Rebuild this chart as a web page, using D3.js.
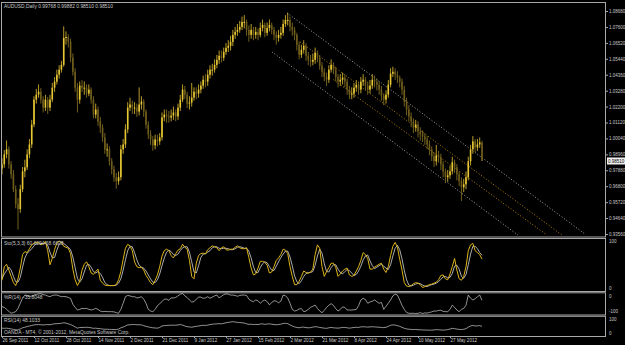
<!DOCTYPE html>
<html><head><meta charset="utf-8">
<script src="https://cdn.jsdelivr.net/npm/d3@7"></script>
<style>
body{margin:0;background:#000;}
svg{display:block;background:#000;}
text{font-family:"Liberation Sans",Arial,sans-serif;font-size:4.9px;fill:#c8c8c8;}
</style></head><body>
<svg id="c" width="625" height="345"></svg>
<script>
// ---------- data (AUDUSD Daily) ----------
const openP=[0.9800,0.9828,0.9896,0.9930,0.9828,0.9761,0.9660,0.9558,0.9525,0.9660,
0.9781,0.9808,0.9896,0.9963,1.0098,1.0267,1.0301,1.0321,1.0267,1.0213,
1.0267,1.0213,1.0267,1.0348,1.0389,1.0436,1.0470,1.0503,1.0686,1.0692,
1.0659,1.0551,1.0456,1.0348,1.0267,1.0362,1.0348,1.0348,1.0308,1.0335,
1.0267,1.0166,1.0200,1.0119,1.0078,1.0011,0.9930,0.9930,0.9849,0.9795,
0.9741,0.9714,0.9741,0.9930,0.9963,1.0065,1.0213,1.0234,1.0213,1.0213,
1.0186,1.0234,1.0254,1.0186,1.0098,1.0031,0.9997,0.9957,0.9997,0.9984,
1.0011,1.0146,1.0166,1.0153,1.0146,1.0159,1.0180,1.0153,1.0213,1.0267,
1.0335,1.0301,1.0240,1.0247,1.0281,1.0321,1.0308,1.0335,1.0362,1.0402,
1.0389,1.0436,1.0470,1.0470,1.0503,1.0537,1.0564,1.0551,1.0591,1.0618,
1.0632,1.0659,1.0706,1.0726,1.0740,1.0760,1.0794,1.0794,1.0740,1.0706,
1.0740,1.0706,1.0726,1.0706,1.0753,1.0774,1.0720,1.0753,1.0774,1.0740,
1.0706,1.0686,1.0706,1.0720,1.0780,1.0807,1.0807,1.0760,1.0740,1.0706,
1.0639,1.0571,1.0605,1.0632,1.0564,1.0537,1.0524,1.0537,1.0584,1.0551,
1.0497,1.0456,1.0422,1.0402,1.0470,1.0503,1.0470,1.0422,1.0389,1.0402,
1.0416,1.0389,1.0335,1.0301,1.0308,1.0348,1.0368,1.0335,1.0389,1.0402,
1.0362,1.0335,1.0362,1.0402,1.0389,1.0368,1.0335,1.0294,1.0267,1.0301,
1.0368,1.0443,1.0456,1.0436,1.0416,1.0389,1.0335,1.0254,1.0200,1.0153,
1.0119,1.0078,1.0098,1.0051,1.0031,1.0017,0.9997,0.9963,0.9930,0.9883,
0.9849,0.9889,0.9876,0.9828,0.9781,0.9741,0.9754,0.9781,0.9842,0.9808,
0.9761,0.9714,0.9673,0.9693,0.9741,0.9849,0.9930,0.9984,0.9943,0.9963,
0.9977];
const highP=[0.9870,0.9925,0.9990,0.9950,0.9850,0.9790,0.9685,0.9600,0.9690,0.9810,
0.9860,0.9930,1.0000,1.0130,1.0290,1.0340,1.0370,1.0345,1.0290,1.0300,
1.0285,1.0300,1.0380,1.0420,1.0470,1.0500,1.0530,1.0764,1.0730,1.0710,
1.0680,1.0580,1.0480,1.0380,1.0390,1.0400,1.0390,1.0370,1.0370,1.0350,
1.0290,1.0240,1.0220,1.0150,1.0100,1.0040,0.9970,0.9950,0.9870,0.9820,
0.9770,0.9780,0.9960,1.0000,1.0100,1.0250,1.0280,1.0260,1.0250,1.0240,
1.0350,1.0290,1.0270,1.0200,1.0120,1.0060,1.0020,1.0030,1.0030,1.0040,
1.0180,1.0200,1.0200,1.0190,1.0200,1.0220,1.0200,1.0240,1.0300,1.0370,
1.0360,1.0320,1.0290,1.0380,1.0350,1.0350,1.0370,1.0390,1.0430,1.0440,
1.0470,1.0500,1.0510,1.0540,1.0570,1.0600,1.0600,1.0620,1.0650,1.0670,
1.0700,1.0740,1.0760,1.0780,1.0800,1.0830,1.0840,1.0810,1.0770,1.0780,
1.0760,1.0760,1.0750,1.0790,1.0810,1.0790,1.0790,1.0810,1.0790,1.0760,
1.0730,1.0740,1.0760,1.0810,1.0840,1.0856,1.0830,1.0790,1.0760,1.0720,
1.0660,1.0640,1.0670,1.0650,1.0590,1.0570,1.0580,1.0620,1.0600,1.0570,
1.0520,1.0480,1.0450,1.0500,1.0540,1.0520,1.0490,1.0440,1.0440,1.0450,
1.0440,1.0410,1.0360,1.0350,1.0380,1.0400,1.0390,1.0420,1.0440,1.0420,
1.0390,1.0400,1.0440,1.0430,1.0410,1.0390,1.0360,1.0310,1.0330,1.0400,
1.0480,1.0490,1.0480,1.0460,1.0430,1.0410,1.0360,1.0280,1.0230,1.0180,
1.0140,1.0130,1.0120,1.0080,1.0060,1.0040,1.0020,0.9990,0.9950,0.9910,
0.9960,0.9920,0.9900,0.9850,0.9800,0.9790,0.9820,0.9880,0.9860,0.9830,
0.9780,0.9740,0.9730,0.9780,0.9880,0.9960,1.0020,1.0000,1.0000,1.0010,
0.9988];
const lowP=[0.9760,0.9805,0.9870,0.9800,0.9730,0.9640,0.9530,0.9386,0.9500,0.9640,
0.9740,0.9790,0.9870,0.9940,1.0080,1.0240,1.0280,1.0240,1.0180,1.0190,
1.0170,1.0190,1.0250,1.0320,1.0370,1.0410,1.0450,1.0490,1.0640,1.0620,
1.0520,1.0430,1.0320,1.0180,1.0240,1.0320,1.0300,1.0280,1.0290,1.0240,
1.0140,1.0140,1.0090,1.0040,0.9980,0.9900,0.9880,0.9820,0.9760,0.9710,
0.9663,0.9690,0.9720,0.9900,0.9940,1.0040,1.0190,1.0170,1.0170,1.0150,
1.0160,1.0200,1.0150,1.0070,1.0000,0.9960,0.9920,0.9930,0.9950,0.9960,
0.9990,1.0120,1.0110,1.0110,1.0120,1.0130,1.0120,1.0130,1.0190,1.0250,
1.0270,1.0210,1.0200,1.0220,1.0260,1.0270,1.0280,1.0310,1.0340,1.0350,
1.0360,1.0410,1.0430,1.0450,1.0480,1.0510,1.0520,1.0530,1.0570,1.0590,
1.0600,1.0630,1.0680,1.0700,1.0720,1.0740,1.0750,1.0700,1.0660,1.0680,
1.0670,1.0680,1.0670,1.0690,1.0730,1.0690,1.0700,1.0730,1.0710,1.0670,
1.0640,1.0660,1.0680,1.0700,1.0760,1.0770,1.0730,1.0700,1.0670,1.0600,
1.0540,1.0550,1.0580,1.0530,1.0500,1.0490,1.0500,1.0510,1.0520,1.0470,
1.0420,1.0390,1.0360,1.0380,1.0450,1.0440,1.0390,1.0350,1.0360,1.0370,
1.0350,1.0300,1.0270,1.0270,1.0280,1.0320,1.0300,1.0310,1.0360,1.0330,
1.0300,1.0310,1.0340,1.0350,1.0330,1.0300,1.0260,1.0230,1.0240,1.0280,
1.0350,1.0420,1.0400,1.0380,1.0350,1.0300,1.0220,1.0160,1.0120,1.0080,
1.0040,1.0050,1.0010,0.9990,0.9980,0.9960,0.9930,0.9890,0.9850,0.9810,
0.9820,0.9840,0.9790,0.9740,0.9700,0.9710,0.9730,0.9760,0.9770,0.9720,
0.9680,0.9580,0.9640,0.9660,0.9720,0.9820,0.9900,0.9910,0.9920,0.9940,
0.9851];
const closeP=[0.9828,0.9896,0.9930,0.9828,0.9761,0.9660,0.9558,0.9525,0.9660,0.9781,
0.9808,0.9896,0.9963,1.0098,1.0267,1.0301,1.0321,1.0267,1.0213,1.0267,
1.0213,1.0267,1.0348,1.0389,1.0436,1.0470,1.0503,1.0686,1.0692,1.0659,
1.0551,1.0456,1.0348,1.0267,1.0362,1.0348,1.0348,1.0308,1.0335,1.0267,
1.0166,1.0200,1.0119,1.0078,1.0011,0.9930,0.9930,0.9849,0.9795,0.9741,
0.9714,0.9741,0.9930,0.9963,1.0065,1.0213,1.0234,1.0213,1.0213,1.0186,
1.0234,1.0254,1.0186,1.0098,1.0031,0.9997,0.9957,0.9997,0.9984,1.0011,
1.0146,1.0166,1.0153,1.0146,1.0159,1.0180,1.0153,1.0213,1.0267,1.0335,
1.0301,1.0240,1.0247,1.0281,1.0321,1.0308,1.0335,1.0362,1.0402,1.0389,
1.0436,1.0470,1.0470,1.0503,1.0537,1.0564,1.0551,1.0591,1.0618,1.0632,
1.0659,1.0706,1.0726,1.0740,1.0760,1.0794,1.0794,1.0740,1.0706,1.0740,
1.0706,1.0726,1.0706,1.0753,1.0774,1.0720,1.0753,1.0774,1.0740,1.0706,
1.0686,1.0706,1.0720,1.0780,1.0807,1.0807,1.0760,1.0740,1.0706,1.0639,
1.0571,1.0605,1.0632,1.0564,1.0537,1.0524,1.0537,1.0584,1.0551,1.0497,
1.0456,1.0422,1.0402,1.0470,1.0503,1.0470,1.0422,1.0389,1.0402,1.0416,
1.0389,1.0335,1.0301,1.0308,1.0348,1.0368,1.0335,1.0389,1.0402,1.0362,
1.0335,1.0362,1.0402,1.0389,1.0368,1.0335,1.0294,1.0267,1.0301,1.0368,
1.0443,1.0456,1.0436,1.0416,1.0389,1.0335,1.0254,1.0200,1.0153,1.0119,
1.0078,1.0098,1.0051,1.0031,1.0017,0.9997,0.9963,0.9930,0.9883,0.9849,
0.9889,0.9876,0.9828,0.9781,0.9741,0.9754,0.9781,0.9842,0.9808,0.9761,
0.9714,0.9673,0.9693,0.9741,0.9849,0.9930,0.9984,0.9943,0.9963,0.9977,
0.9851];

const stochMain=[17,45,50,38,25,12,6,20,42,70,
76,74,82,90,93,95,94,90,92,97,
78,49,62,80,94,98,95,87,85,83,
72,40,18,6,15,38,50,55,45,32,
29,35,40,17,11,7,6,6,6,6,
8,18,35,60,83,91,88,78,55,45,
43,44,38,27,20,12,8,17,28,45,
67,78,81,78,68,63,72,79,82,91,
85,81,58,25,20,52,68,72,73,71,
80,84,88,86,84,78,84,86,80,79,
81,81,85,88,84,82,82,84,64,42,
28,30,42,56,56,54,48,32,34,45,
58,63,70,81,79,72,45,25,8,8,
15,25,36,33,31,34,40,70,90,83,
45,25,35,43,52,52,44,25,30,36,
40,42,28,25,27,36,45,58,74,70,
62,40,40,44,47,50,52,40,33,45,
68,87,95,85,60,38,12,5,4,6,
10,12,11,8,2,4,6,8,9,11,
13,18,27,28,20,18,30,45,62,38,
20,17,25,45,78,90,93,78,74,70,
60.6294];
const stochSignal=[20,30,37,44,38,25,14,13,23,44,
63,73,77,82,88,93,94,93,92,93,
89,75,63,64,79,91,96,93,89,85,
80,65,43,21,13,20,34,48,50,44,
35,32,35,31,23,12,8,6,6,6,
7,11,20,38,59,78,87,86,74,59,
48,44,42,36,28,20,13,12,18,30,
47,63,75,79,76,70,68,71,78,84,
86,86,75,55,34,32,47,64,71,72,
75,78,84,86,86,83,82,83,83,82,
80,80,82,85,86,85,83,83,77,63,
45,33,33,43,51,55,53,45,38,37,
46,55,64,71,77,77,65,47,26,14,
10,16,25,31,33,33,35,48,67,81,
73,51,35,34,43,49,49,40,33,30,
35,39,37,32,27,29,36,46,59,67,
69,57,47,41,44,47,50,46,42,39,
49,67,83,89,80,61,37,18,7,5,
7,9,11,10,7,5,4,6,8,9,
11,14,19,24,25,22,23,31,46,48,
40,25,21,29,49,71,87,87,82,74,
68.6608];
const williamsR=[-67,-70,-80,-90,-99,-95,-91,-75,-50,-25,
-10,-12,-18,-15,-10,-8,-4,-3,-8,-10,
-15,-18,-12,-10,-10,-14,-18,-17,-18,-22,
-26,-55,-70,-83,-80,-75,-76,-75,-80,-83,
-80,-75,-80,-88,-91,-90,-91,-91,-91,-92,
-96,-99,-80,-50,-18,-12,-14,-18,-18,-24,
-22,-18,-30,-50,-80,-88,-91,-80,-62,-52,
-42,-30,-30,-36,-24,-24,-22,-14,-6,-2,
-14,-22,-34,-44,-42,-30,-20,-20,-26,-24,
-18,-26,-20,-14,-10,-24,-16,-8,-4,-6,
-10,-10,-12,-16,-12,-10,-10,-12,-30,-38,
-42,-34,-38,-50,-40,-34,-42,-58,-46,-38,
-40,-48,-40,-10,-14,-24,-50,-80,-88,-85,
-78,-76,-91,-88,-80,-70,-65,-59,-75,-88,
-96,-85,-70,-60,-52,-60,-76,-88,-80,-68,
-70,-83,-83,-83,-82,-80,-62,-34,-26,-32,
-50,-44,-40,-34,-42,-50,-46,-80,-65,-50,
-34,-14,-6,-10,-34,-60,-80,-95,-99,-99,
-99,-100,-99,-96,-100,-97,-98,-95,-92,-88,
-88,-85,-84,-90,-91,-91,-80,-59,-70,-83,
-91,-80,-75,-60,-10,-25,-34,-28,-18,-10,
-35.8048];
const rsiValues=[38,37,38,36,34,31,29,28,34,40,
43,47,50,53,56,57,58,57,56,57,
58,57,60,62,63,64,65,68,66,62,
58,52,45,38,42,42,42,43,42,40,
37,38,36,35,33,32,32,31,31,30,
30,33,40,44,50,56,57,58,58,57,
57,56,52,48,45,42,40,39,38,42,
50,52,53,54,54,55,54,56,58,55,
50,46,45,43,46,48,50,52,54,53,
55,58,60,61,62,63,62,65,68,70,
72,74,72,70,69,68,66,62,59,60,
58,59,58,61,62,59,61,62,60,58,
57,58,60,64,65,63,56,50,45,42,
40,43,44,41,40,41,44,46,45,42,
40,38,37,40,42,40,39,38,40,42,
42,40,38,40,42,43,42,45,46,45,
44,45,46,45,44,43,42,41,43,48,
54,56,55,52,48,43,37,34,32,31,
30,31,29,29,28,28,27,27,27,28,
30,29,28,27,28,30,33,37,35,33,
31,30,32,35,44,50,53,50,51,52,
48.1033];

const dateLabels=["26 Sep 2011","12 Oct 2011","28 Oct 2011","14 Nov 2011","2 Dec 2011","21 Dec 2011","9 Jan 2012","27 Jan 2012","15 Feb 2012","2 Mar 2012","21 Mar 2012","8 Apr 2012","24 Apr 2012","10 May 2012","27 May 2012"];
const barsPerLabel=14;
const priceTicks=[1.08680,1.07600,1.06520,1.05440,1.04360,1.03280,1.02200,1.01120,1.00040,0.98960,0.97880,0.96800,0.95720,0.94640,0.93560];
// channel lines: [barIndex, price] pairs
const channelLines=[
 {a:[124.7,1.0855],b:[255.0,0.9356],kind:"grey"},
 {a:[118.1,1.0591],b:[225.7,0.9349],kind:"grey"},
 {a:[130.4,1.0659],b:[245.0,0.9349],kind:"gold"},
 {a:[145.0,1.0402],b:[238.4,0.9349],kind:"gold"}
];
const header="AUDUSD,Daily  0.99768 0.99882 0.98510 0.98510";

// ---------- drawing ----------
const svg=d3.select("#c");
const N=closeP.length;
const x=d3.scaleLinear().domain([0,196]).range([2,450]);
const yP=d3.scaleLinear().domain([0.9356,1.0868]).range([234,11]);
const yS=d3.scaleLinear().domain([0,100]).range([288.5,240]);
const yW=d3.scaleLinear().domain([-100,0]).range([313.5,293]);
const yR=d3.scaleLinear().domain([0,100]).range([335,317]);

const frame="#a8a8a8";
const panels=[[1,2,236.5],[1,238,291],[1,292.3,314.5],[1,315.8,336]];
panels.forEach(p=>{
  svg.append("rect").attr("x",p[0]+0.5).attr("y",p[1]+0.5).attr("width",605-p[0]).attr("height",p[2]-p[1])
   .attr("fill","none").attr("stroke",frame).attr("stroke-width",1);
});

svg.append("clipPath").attr("id","mc").append("rect").attr("x",2).attr("y",3).attr("width",604).attr("height",233);
const main=svg.append("g").attr("clip-path","url(#mc)");
channelLines.forEach(l=>{
  const x1=x(l.a[0]),y1=yP(l.a[1]),x2=x(l.b[0]),y2=yP(l.b[1]);
  main.append("line").attr("x1",x1).attr("y1",y1).attr("x2",x2).attr("y2",y2)
   .attr("stroke",l.kind==="grey"?"#a8a8a8":"#b8860b").attr("stroke-width",1)
   .attr("stroke-dasharray","1,2");
});
const idx=d3.range(N);
main.selectAll("line.wick").data(idx).join("line").attr("class","wick")
  .attr("x1",i=>x(i)).attr("x2",i=>x(i)).attr("y1",i=>yP(highP[i])).attr("y2",i=>yP(lowP[i]))
  .attr("stroke",i=>closeP[i]>=openP[i]?"#c9ac2c":"#7d6a22").attr("stroke-width",0.9);
main.selectAll("rect.body").data(idx).join("rect").attr("class","body")
  .attr("x",i=>x(i)-0.8).attr("width",1.6)
  .attr("y",i=>yP(Math.max(openP[i],closeP[i])))
  .attr("height",i=>Math.max(1,Math.abs(yP(openP[i])-yP(closeP[i]))))
  .attr("fill",i=>closeP[i]>=openP[i]?"#e6c634":"#6f5d1c");

// price axis
const ay=svg.append("g").attr("transform","translate(606,0)")
  .call(d3.axisRight(yP).tickValues(priceTicks).tickSize(2).tickPadding(1).tickFormat(d3.format(".5f")));
ay.select(".domain").remove();
ay.selectAll("line").attr("stroke",frame);
ay.selectAll("text").attr("fill","#c8c8c8").style("font-size","4.5px");
// current price box
const cp=closeP[N-1];
svg.append("rect").attr("x",607).attr("y",yP(cp)-3.5).attr("width",18).attr("height",7).attr("fill","#f0f0f0");
svg.append("text").attr("x",608).attr("y",yP(cp)).attr("dy","0.35em").style("font-size","4.5px").style("fill","#000").text(d3.format(".5f")(cp));

// indicator lines
const ln=(ys,arr)=>d3.line().x((d,i)=>x(i)).y(d=>ys(d))(arr);
svg.append("path").attr("d",ln(yS,stochSignal)).attr("fill","none").attr("stroke","#d8d8d8").attr("stroke-width",0.8);
svg.append("path").attr("d",ln(yS,stochMain)).attr("fill","none").attr("stroke","#dcb418").attr("stroke-width",1);
svg.append("path").attr("d",ln(yW,williamsR)).attr("fill","none").attr("stroke","#d0d0d0").attr("stroke-width",0.7);
svg.append("path").attr("d",ln(yR,rsiValues)).attr("fill","none").attr("stroke","#d0d0d0").attr("stroke-width",0.7);

const sideLabels=[["100",yS(100)+1.5],["0",yS(0)],["0",yW(0)+3],["-100",yW(-100)-2.5],["100",yR(100)+2],["0",yR(0)-2]];
svg.selectAll("text.side").data(sideLabels).join("text").attr("class","side")
  .attr("x",609).attr("y",d=>d[1]).attr("dy","0.35em").style("font-size","4.5px").text(d=>d[0]);

// date axis
const ax=svg.append("g").attr("transform","translate(0,336)")
  .call(d3.axisBottom(x).tickValues(dateLabels.map((d,k)=>k*barsPerLabel)).tickSize(2).tickPadding(1)
    .tickFormat((d,k)=>dateLabels[k]));
ax.select(".domain").remove();
ax.selectAll("line").attr("stroke",frame);
ax.selectAll("text").attr("text-anchor","start").attr("fill","#c8c8c8").style("font-size","4.6px");

// panel texts
svg.append("text").attr("x",4).attr("y",7.5).text(header);
svg.append("text").attr("x",4).attr("y",244.5).text("Sto(5,3,3) "+d3.format(".4f")(stochMain[N-1])+" "+d3.format(".4f")(stochSignal[N-1]));
svg.append("text").attr("x",4).attr("y",298.5).text("%R(14) "+d3.format(".4f")(williamsR[N-1]));
svg.append("text").attr("x",4).attr("y",322).text("RSI(14) "+d3.format(".4f")(rsiValues[N-1]));
svg.append("text").attr("x",4).attr("y",333.5).text("OANDA - MT4, \u00a9 2001-2012, MetaQuotes Software Corp.");
</script></body></html>
